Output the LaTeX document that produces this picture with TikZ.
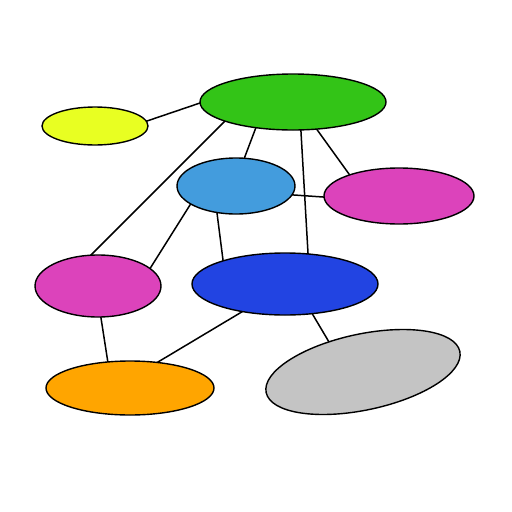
\documentclass[tikz,border=0pt]{standalone}
\usetikzlibrary{shapes.geometric,backgrounds}
\definecolor{cyel}{HTML}{E8FF22}
\definecolor{cgreen}{HTML}{33C417}
\definecolor{clblue}{HTML}{439CDD}
\definecolor{cmag}{HTML}{DC43BB}
\definecolor{cblue}{HTML}{2244E2}
\definecolor{corange}{HTML}{FFA500}
\definecolor{cgray}{HTML}{C4C4C4}
\tikzset{
  blob/.style={ellipse, draw=black, line width=1.4pt, inner sep=0pt},
  link/.style={draw=black, line width=1.5pt, shorten <=-4pt, shorten >=-4pt}
}
\begin{document}
\begin{tikzpicture}[x=1pt,y=-1pt]
\useasboundingbox (0,0) rectangle (512,512);
\node[blob, fill=cyel, minimum width=106pt, minimum height=38pt] (y) at (95,126) {};
\node[blob, fill=cgreen, minimum width=186pt, minimum height=56pt] (g) at (293,102) {};
\node[blob, fill=clblue, minimum width=118pt, minimum height=56pt] (lb) at (236,186) {};
\node[blob, fill=cmag, minimum width=150pt, minimum height=56pt] (rm) at (399,196) {};
\node[blob, fill=cmag, minimum width=126pt, minimum height=62pt] (lm) at (98,286) {};
\node[blob, fill=cblue, minimum width=186pt, minimum height=62pt] (b) at (285,284) {};
\node[blob, fill=corange, minimum width=168pt, minimum height=54pt] (o) at (130,388) {};
\node[blob, fill=cgray, minimum width=198pt, minimum height=76pt, rotate=12] (gr) at (363,372) {};
% connector end points on the node borders
\coordinate (y-g) at (147,121);   \coordinate (g-y) at (200,103);
\coordinate (g-lm) at (225,121);  \coordinate (lm-g) at (92,254);
\coordinate (g-lb) at (255,130);  \coordinate (lb-g) at (244,159);
\coordinate (g-rm) at (318,131);  \coordinate (rm-g) at (349,174);
\coordinate (g-b) at (301,132);   \coordinate (b-g) at (308,253);
\coordinate (lb-rm) at (294,195); \coordinate (rm-lb) at (323,197);
\coordinate (lb-lm) at (190,205); \coordinate (lm-lb) at (151,267);
\coordinate (lb-b) at (217,213);  \coordinate (b-lb) at (223,260);
\coordinate (lm-o) at (101,318);  \coordinate (o-lm) at (108,363);
\coordinate (b-o) at (240,313);   \coordinate (o-b) at (158,362);
\coordinate (b-gr) at (313,315);  \coordinate (gr-b) at (329,342);
\begin{pgfonlayer}{background}
\draw[link] (y-g) -- (g-y);
\draw[link] (g-lm) -- (lm-g);
\draw[link] (g-lb) -- (lb-g);
\draw[link] (g-rm) -- (rm-g);
\draw[link] (g-b) -- (b-g);
\draw[link] (lb-rm) -- (rm-lb);
\draw[link] (lb-lm) -- (lm-lb);
\draw[link] (lb-b) -- (b-lb);
\draw[link] (lm-o) -- (o-lm);
\draw[link] (b-o) -- (o-b);
\draw[link] (b-gr) -- (gr-b);
\end{pgfonlayer}
\end{tikzpicture}
\end{document}
